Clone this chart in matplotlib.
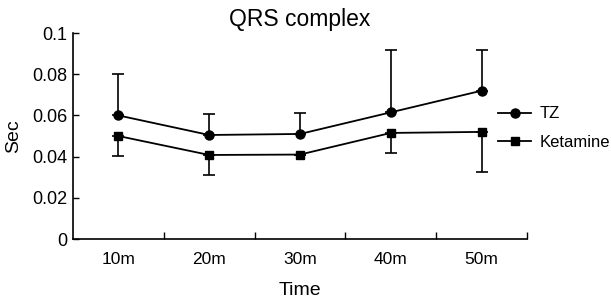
import numpy as np
import matplotlib
matplotlib.use("Agg")
import matplotlib.pyplot as plt

plt.rcParams['font.family'] = ['Liberation Sans', 'DejaVu Sans']

# data
times = ['10m', '20m', '30m', '40m', '50m']
tz_mean = [0.060, 0.0505, 0.051, 0.0615, 0.072]
tz_upper = [0.020, 0.010, 0.010, 0.0305, 0.020]
ket_mean = [0.050, 0.0408, 0.041, 0.0515, 0.052]
ket_lower = [0.0095, 0.0098, 0.0, 0.0098, 0.0197]

x = np.arange(len(times))
zeros = np.zeros(len(times))

fig = plt.figure(figsize=(6.11, 3.02), dpi=100)
ax = fig.add_axes([0.1195, 0.2086, 0.743, 0.682])

ax.errorbar(x, tz_mean, yerr=[zeros, tz_upper], color='black', lw=1.3,
            marker='o', ms=6.5, capsize=4, elinewidth=1.2, capthick=1.2, label='TZ')
ax.errorbar(x, ket_mean, yerr=[ket_lower, zeros], color='black', lw=1.3,
            marker='s', ms=6, capsize=4, elinewidth=1.2, capthick=1.2, label='Ketamine')

ax.set_xlim(-0.5, len(times) - 0.5)
ax.set_ylim(0, 0.1)
ax.set_yticks([0, 0.02, 0.04, 0.06, 0.08, 0.1])
ax.set_yticklabels(['0', '0.02', '0.04', '0.06', '0.08', '0.1'])
ax.set_xticks(x)
ax.set_xticklabels(times)
ax.set_xticks(np.arange(len(times)) + 0.5, minor=True)
ax.tick_params(axis='x', which='major', length=0, pad=9, labelsize=12.5)
ax.tick_params(axis='x', which='minor', direction='in', length=5, width=1)
ax.tick_params(axis='y', direction='in', length=4, width=1, pad=4, labelsize=13)

for s in ['top', 'right']:
    ax.spines[s].set_visible(False)
for s in ['left', 'bottom']:
    ax.spines[s].set_linewidth(1.2)

ax.set_title('QRS complex', fontsize=16.5, pad=5)
ax.set_ylabel('Sec', fontsize=14, labelpad=7)
ax.set_xlabel('Time', fontsize=14, labelpad=11)

handles, labels = ax.get_legend_handles_labels()
handles = [h[0] for h in handles]
fig.legend(handles, labels, loc='center left', bbox_to_anchor=(0.815, 0.576),
           frameon=False, fontsize=12, handlelength=2.0, handletextpad=0.5,
           labelspacing=0.8, borderpad=0, borderaxespad=0)

fig.savefig('out.png', dpi=100)
